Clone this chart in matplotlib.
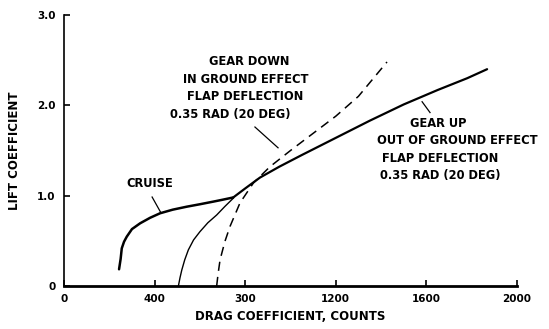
import numpy as np
import matplotlib
matplotlib.use("Agg")
import matplotlib.pyplot as plt

# Drag polar curves (drag in counts, lift coefficient)
cruise_cd = [243, 250, 255, 265, 277, 300, 336, 380, 424, 480, 542, 600, 659, 700, 747]
cruise_cl = [0.185, 0.30, 0.417, 0.49, 0.546, 0.63, 0.694, 0.755, 0.805, 0.845, 0.878, 0.905, 0.934, 0.955, 0.98]

gearup_low_cd = [505, 512, 520, 533, 549, 572, 600, 635, 674, 710, 747]
gearup_low_cl = [0.0, 0.09, 0.177, 0.29, 0.40, 0.51, 0.601, 0.70, 0.786, 0.88, 0.971]

gearup_high_cd = [747, 800, 865, 950, 1050, 1200, 1350, 1500, 1650, 1780, 1868]
gearup_high_cl = [0.98, 1.08, 1.20, 1.32, 1.45, 1.64, 1.83, 2.01, 2.17, 2.30, 2.40]

geardown_cd = [674, 680, 689, 710, 733, 777, 836, 909, 1000, 1100, 1200, 1300, 1426]
geardown_cl = [0.0, 0.13, 0.29, 0.49, 0.66, 0.92, 1.14, 1.32, 1.50, 1.69, 1.88, 2.10, 2.48]

xticks = [0, 400, 800, 1200, 1600, 2000]
xtick_labels = ["0", "400", "300", "1200", "1600", "2000"]
yticks = [0, 1, 2, 3]
ytick_labels = ["0", "1.0", "2.0", "3.0"]

fig = plt.figure(figsize=(5.49, 3.29), dpi=100)
ax = fig.add_axes([0.1166, 0.1307, 0.8251, 0.8237])

ax.plot(cruise_cd, cruise_cl, color="black", lw=1.8, solid_capstyle="round")
ax.plot(gearup_low_cd, gearup_low_cl, color="black", lw=1.0)
ax.plot(gearup_high_cd, gearup_high_cl, color="black", lw=1.6, solid_capstyle="round")
ax.plot(geardown_cd, geardown_cl, color="black", lw=1.1, dashes=(6, 4))

ax.set_xlim(0, 2000)
ax.set_ylim(0, 3.0)
ax.spines["top"].set_visible(False)
ax.spines["right"].set_visible(False)
ax.spines["bottom"].set_linewidth(2.0)
ax.spines["left"].set_linewidth(1.2)

ax.set_xticks(xticks)
ax.set_xticklabels(xtick_labels)
ax.set_yticks(yticks)
ax.set_yticklabels(ytick_labels)
ax.tick_params(direction="in", length=4, width=1.2, labelsize=7.5, pad=6)
for lab in ax.get_xticklabels() + ax.get_yticklabels():
    lab.set_fontweight("bold")

ax.set_xlabel("DRAG COEFFICIENT, COUNTS", fontsize=8.5, fontweight="bold", labelpad=4)
ax.set_ylabel("LIFT COEFFICIENT", fontsize=8.5, fontweight="bold", labelpad=12)

tkw = dict(fontsize=8.3, fontweight="bold", ha="center", va="center")

# labels for each curve
ax.text(380, 1.13, "CRUISE", **tkw)
ax.plot([389, 428], [0.985, 0.81], color="black", lw=0.9)

down_lines = ["GEAR DOWN", "IN GROUND EFFECT", "FLAP DEFLECTION", "0.35 RAD (20 DEG)"]
down_x = [817, 803, 799, 733]
down_y = [2.48, 2.29, 2.10, 1.90]
for s, xx, yy in zip(down_lines, down_x, down_y):
    ax.text(xx, yy, s, **tkw)
ax.plot([843, 945], [1.76, 1.53], color="black", lw=0.9)

up_lines = ["GEAR UP", "OUT OF GROUND EFFECT", "FLAP DEFLECTION", "0.35 RAD (20 DEG)"]
up_x = [1651, 1735, 1660, 1660]
up_y = [1.80, 1.61, 1.41, 1.22]
for s, xx, yy in zip(up_lines, up_x, up_y):
    ax.text(xx, yy, s, **tkw)
ax.plot([1581, 1616], [2.04, 1.92], color="black", lw=0.9)

fig.savefig("out.png", dpi=100)
